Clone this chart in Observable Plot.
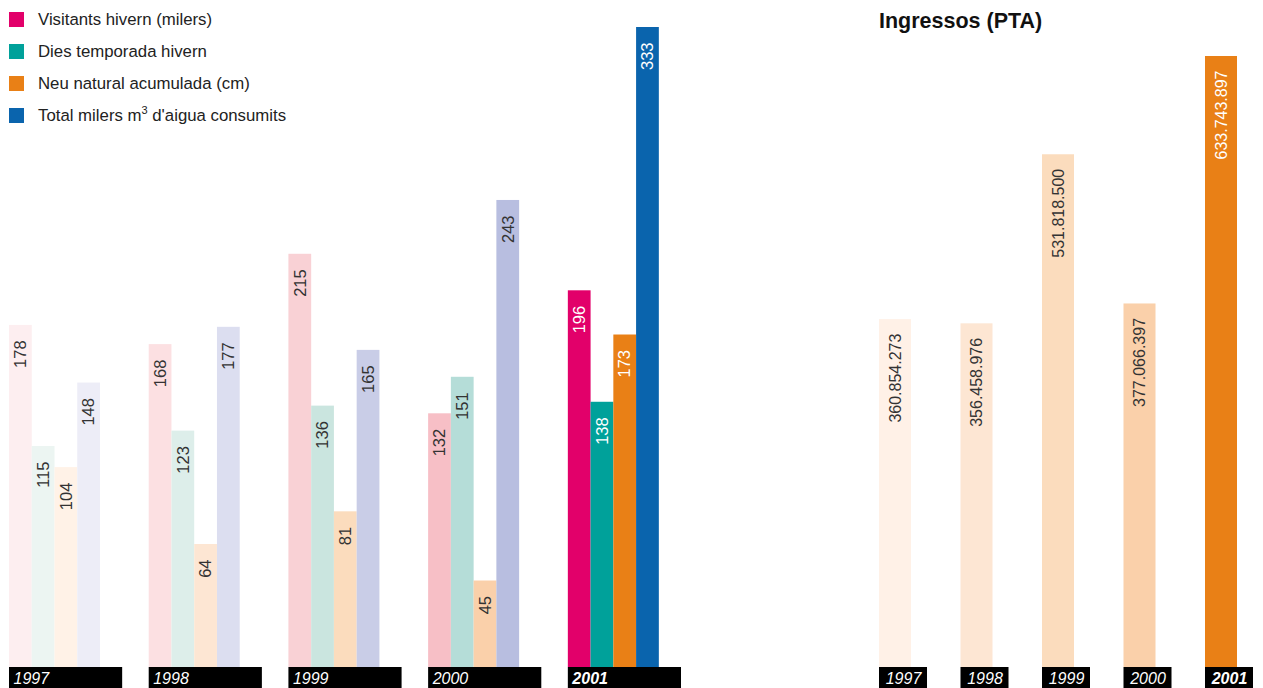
<!DOCTYPE html>
<html>
<head>
<meta charset="utf-8">
<script src="https://cdn.jsdelivr.net/npm/d3@7"></script>
<script src="https://cdn.jsdelivr.net/npm/@observablehq/plot@0.6"></script>
<style>
  html, body { margin: 0; padding: 0; background: #fff; }
  #wrap { position: relative; width: 1263px; height: 688px; overflow: hidden; font-family: "Liberation Sans", Arial, sans-serif; }
  #left { position: absolute; left: 0; top: 0; }
  #right { position: absolute; left: 860px; top: 0; }
  #legend { position: absolute; left: 9px; top: 12px; }
  .item { display: flex; align-items: center; height: 15px; margin-bottom: 17px; font-size: 16.8px; color: #222; white-space: nowrap; }
  .sw { width: 15px; height: 15px; margin-right: 14px; flex: none; }
  #title { position: absolute; left: 879px; top: 9px; font-size: 21.5px; font-weight: bold; color: #111; }
  svg { background: transparent !important; }
</style>
</head>
<body>
<div id="wrap">
  <div id="left"></div>
  <div id="right"></div>
  <div id="legend"></div>
  <div id="title">Ingressos (PTA)</div>
</div>
<script>
// ---- Data ----
const years = ["1997", "1998", "1999", "2000", "2001"];
const series = ["Visitants hivern (milers)", "Dies temporada hivern", "Neu natural acumulada (cm)", "Total milers m³ d'aigua consumits"];
const visitants = [178, 168, 215, 132, 196];
const dies = [115, 123, 136, 151, 138];
const neu = [104, 64, 81, 45, 173];
const aigua = [148, 177, 165, 243, 333];
const ingressos = [360854273, 356458976, 531818500, 377066397, 633743897];

// ---- Palettes (tints per year, full colour in 2001) ----
const visitantsColors = ["#fdeef0", "#fce0e2", "#f9d1d5", "#f7bfc6", "#e2006a"];
const diesColors = ["#ecf5f2", "#ddeeea", "#cae5df", "#b5ddd8", "#00a19a"];
const neuColors = ["#fff2e7", "#fde6d3", "#fbdcbd", "#fad0aa", "#e98016"];
const aiguaColors = ["#ededf7", "#dcdef0", "#c9cde7", "#b8bee0", "#0a64ad"];
const ingressosColors = ["#fff1e7", "#fde6d3", "#fbdcbd", "#fad0aa", "#e98016"];

const seriesValues = [visitants, dies, neu, aigua];
const seriesColors = [visitantsColors, diesColors, neuColors, aiguaColors];

const rows = [];
years.forEach((yr, i) => {
  series.forEach((s, j) => {
    rows.push({year: yr, series: s, value: seriesValues[j][i], color: seriesColors[j][i], last: yr === "2001"});
  });
});

const ingRows = years.map((yr, i) => ({year: yr, value: ingressos[i], color: ingressosColors[i], last: yr === "2001"}));
const fmt = d3.formatLocale({decimal: ",", thousands: ".", grouping: [3], currency: ["", ""]}).format(",d");

// ---- Legend ----
const legend = document.getElementById("legend");
series.forEach((s, j) => {
  const it = document.createElement("div");
  it.className = "item";
  const sw = document.createElement("div");
  sw.className = "sw";
  sw.style.background = seriesColors[j][4];
  const lab = document.createElement("span");
  if (s.includes("m³")) {
    const [a, b] = s.split("m³");
    lab.innerHTML = a + "m<sup style='font-size:11px;vertical-align:7px;line-height:0'>3</sup>" + b;
  } else lab.textContent = s;
  it.appendChild(sw); it.appendChild(lab);
  legend.appendChild(it);
});

const font = "'Liberation Sans', Arial, sans-serif";

// ---- Left chart ----
const left = Plot.plot({
  width: 860, height: 688,
  margin: 0,
  style: {fontFamily: font, background: "transparent"},
  fx: {domain: years, range: [9, 681], paddingInner: 0.19, paddingOuter: 0, align: 0, round: false, axis: null},
  x: {domain: series, range: [0, 91], padding: 0, round: false, axis: null},
  y: {domain: [0, 333], range: [667, 27], axis: null},
  marks: [
    Plot.barY(rows, {fx: "year", x: "series", y: "value", fill: "color"}),
    Plot.text(rows, {fx: "year", x: "series", y: "value", text: d => String(d.value), rotate: -90, textAnchor: "end", lineAnchor: "middle", dy: 15, fontSize: 16.5, fill: d => d.last ? "white" : "#333"}),
    Plot.barY(years, {fx: d => d, y1: 0, y2: 0, insetBottom: -21, fill: "black"}),
    Plot.text(years.filter(y => y !== "2001"), {fx: d => d, text: d => d, frameAnchor: "bottom-left", textAnchor: "start", lineAnchor: "middle", dx: 4, dy: -10, fill: "white", fontSize: 16, fontStyle: "italic"}),
    Plot.text(years.filter(y => y === "2001"), {fx: d => d, text: d => d, frameAnchor: "bottom-left", textAnchor: "start", lineAnchor: "middle", dx: 4, dy: -10, fill: "white", fontSize: 16, fontStyle: "italic", fontWeight: "bold"})
  ]
});
document.getElementById("left").appendChild(left);

// ---- Right chart ----
const right = Plot.plot({
  width: 403, height: 688,
  margin: 0,
  style: {fontFamily: font, background: "transparent"},
  x: {domain: years, range: [19, 393], paddingInner: 0.411, paddingOuter: 0, align: 0, round: false, axis: null},
  y: {domain: [0, 633743897], range: [667, 56], axis: null},
  marks: [
    Plot.barY(ingRows, {x: "year", y: "value", fill: "color", insetRight: 16}),
    Plot.text(ingRows, {x: "year", y: "value", text: d => fmt(d.value), rotate: -90, textAnchor: "end", lineAnchor: "middle", dx: -8, dy: 14, fontSize: 16, fill: d => d.last ? "white" : "#333"}),
    Plot.barY(years, {x: d => d, y1: 0, y2: 0, insetBottom: -21, fill: "black"}),
    Plot.text(years.filter(y => y !== "2001"), {x: d => d, text: d => d, frameAnchor: "bottom", textAnchor: "middle", lineAnchor: "middle", dy: -10, fill: "white", fontSize: 16, fontStyle: "italic"}),
    Plot.text(years.filter(y => y === "2001"), {x: d => d, text: d => d, frameAnchor: "bottom", textAnchor: "middle", lineAnchor: "middle", dy: -10, fill: "white", fontSize: 16, fontStyle: "italic", fontWeight: "bold"})
  ]
});
document.getElementById("right").appendChild(right);
</script>
</body>
</html>
